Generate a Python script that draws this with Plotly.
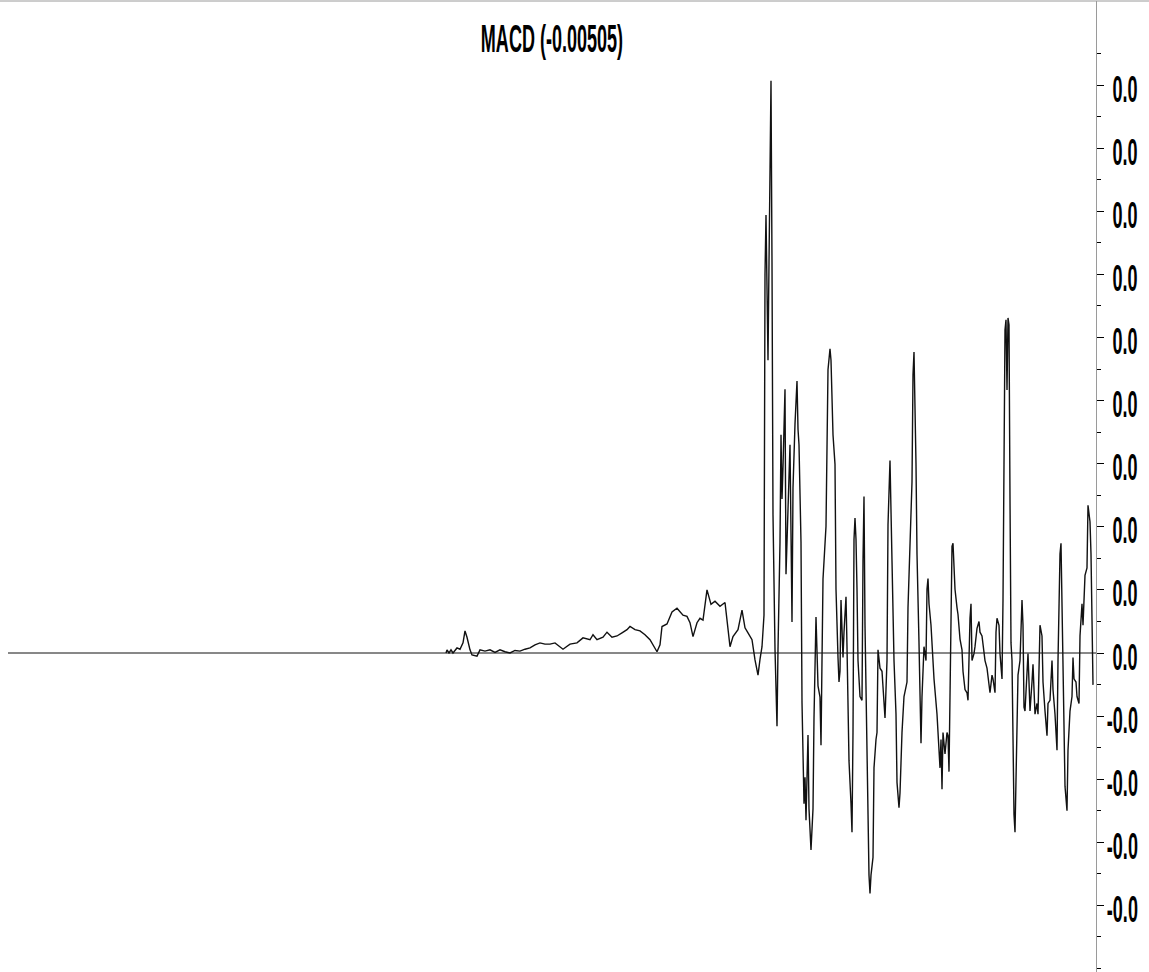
import plotly.graph_objects as go

# ---- data (x = bar index, values in units of 1e-4) ----
bar = [446, 447, 449, 451, 453, 455, 457, 460, 463, 465, 467, 470, 472, 477, 480, 485, 490, 495, 500, 505,
       510, 515, 520, 525, 530, 535, 540, 545, 550, 555, 560, 563, 570, 577, 583, 590, 593, 597, 603, 607,
       612, 617, 622, 627, 630, 635, 640, 645, 650, 653, 657, 660, 662, 667, 672, 677, 680, 683, 687, 690,
       693, 697, 700, 703, 707, 711, 715, 720, 725, 730, 733, 738, 742, 745, 748, 752, 755, 758, 760, 762,
       764, 765, 766, 767, 768, 769, 770, 771, 772, 773, 775, 777, 778, 780, 781, 782, 783, 785, 786, 787,
       789, 790, 792, 793, 795, 797, 798, 799, 801, 802, 804, 805, 806, 808, 809, 811, 813, 814, 816, 818,
       820, 821, 822, 823, 826, 828, 830, 831, 833, 835, 836, 837, 838, 839, 840, 841, 842, 843, 844, 845,
       846, 847, 848, 849, 851, 852, 853, 854, 855, 856, 857, 858, 860, 862, 863, 864, 865, 867, 868, 869,
       870, 871, 873, 874, 876, 877, 878, 880, 882, 883, 885, 887, 888, 890, 891, 892, 894, 896, 897, 899,
       900, 902, 904, 907, 908, 910, 912, 913, 914, 916, 917, 919, 921, 922, 924, 926, 927, 928, 929, 931,
       933, 934, 937, 938, 940, 941, 942, 943, 945, 947, 948, 949, 951, 952, 953, 955, 957, 958, 960, 962,
       963, 965, 967, 968, 970, 971, 972, 974, 975, 977, 979, 980, 982, 983, 985, 987, 988, 990, 992, 993,
       995, 996, 997, 999, 1000, 1002, 1003, 1004, 1005, 1006, 1007, 1008, 1009, 1010, 1011, 1012, 1013, 1014, 1015, 1016,
       1017, 1018, 1020, 1022, 1023, 1024, 1025, 1027, 1028, 1029, 1030, 1032, 1033, 1035, 1037, 1038, 1040, 1042, 1043, 1045,
       1047, 1048, 1050, 1052, 1053, 1055, 1057, 1058, 1060, 1061, 1062, 1063, 1065, 1067, 1068, 1070, 1072, 1073, 1074, 1076,
       1077, 1079, 1080, 1082, 1083, 1085, 1087, 1088, 1090, 1091, 1092, 1093]

macd_1e4 = [0, 5, 0, 5, 0, 5, 8, 6, 16, 35, 25, 5, -3, -5, 5, 3, 5, 1, 5, 2,
            0, 4, 3, 6, 8, 13, 16, 14, 14, 16, 10, 6, 14, 16, 24, 21, 29, 21, 25, 33,
            25, 27, 32, 37, 42, 37, 35, 29, 21, 13, 2, 13, 42, 46, 65, 71, 65, 60, 58, 48,
            26, 48, 55, 52, 100, 77, 82, 74, 80, 10, 26, 37, 68, 40, 32, 21, -11, -35, -10, 10,
            60, 600, 694, 600, 464, 618, 727, 907, 618, 219, 6, -116, 6, 176, 346, 244, 295, 418, 125, 185,
            277, 330, 49, 262, 363, 431, 355, 330, 176, -78, -239, -197, -265, -130, -247, -312, -247, -103, 57, -52,
            -70, -146, -11, 117, 201, 449, 482, 464, 346, 299, 101, 33, -7, -46, -29, 84, 27, -7, 33, 55,
            89, 10, -69, -171, -239, -284, -126, 180, 214, 180, 101, -12, -69, -75, 146, 248, 44, -154, -296, -352,
            -381, -352, -324, -182, -137, -126, 5, -24, -29, -52, -103, -12, 203, 305, 242, 146, -12, -97, -205, -245,
            -222, -126, -69, -46, 72, 157, 271, 441, 477, 299, 157, 16, -143, -69, 10, -12, 101, 118, 78, 44,
            -12, -41, -97, -126, -182, -137, -216, -126, -160, -126, -131, -188, 44, 169, 174, 101, 72, 61, 22, 5,
            -29, -58, -63, -75, 55, 78, -12, -1, 10, 39, 50, 33, 27, 10, -12, -24, -41, -63, -35, -41,
            -63, 33, 55, 44, -1, -41, 84, 306, 512, 528, 417, 531, 520, 243, 16, -12, -182, -256, -284, -182,
            -103, -35, -12, 84, 44, -86, -92, -12, -1, -46, -92, -46, -18, -97, -80, -97, 44, 27, -46, -92,
            -131, -80, -75, -12, -58, -97, -154, -12, 157, 174, 72, -69, -211, -250, -154, -92, -69, -7, -41, -46,
            -69, -80, 27, 78, 44, 123, 135, 234, 208, 157, 44, -50.5]

macd = [v * 1e-4 for v in macd_1e4]
last_value = macd[-1]

major_vals = [0.09, 0.08, 0.07, 0.06, 0.05, 0.04, 0.03, 0.02, 0.01, 0.0, -0.01, -0.02, -0.03, -0.04]
major_text = ["0.0", "0.0", "0.0", "0.0", "0.0", "0.0", "0.0", "0.0", "0.0", "0.0", "-0.0", "-0.0", "-0.0", "-0.0"]
minor_vals = [0.095, 0.085, 0.075, 0.065, 0.055, 0.045, 0.035, 0.025, 0.015, 0.005,
              -0.005, -0.015, -0.025, -0.035, -0.045, -0.05]

W, H = 1149, 972
ML, MR, MT, MB = 8, 53, 1, 0
PW = W - ML - MR

FONT = "Liberation Sans Narrow, Arial Narrow, Liberation Sans, Arial, sans-serif"

fig = go.Figure()
fig.add_trace(go.Scatter(x=bar, y=macd, mode="lines",
                         line=dict(color="#111111", width=1.4),
                         hoverinfo="skip", showlegend=False))

for v, t in zip(major_vals, major_text):
    fig.add_annotation(x=(1140 - ML) / PW, xref="paper", y=v, yref="y", text=t,
                       showarrow=False, xanchor="right", yanchor="middle", yshift=-4,
                       font=dict(family=FONT, size=22, color="#000000", weight="bold"))

fig.add_shape(type="line", xref="paper", x0=0, x1=1, yref="y", y0=0, y1=0,
              line=dict(color="#111111", width=1))
fig.add_shape(type="line", xref="paper", x0=-ML / PW, x1=(W - ML) / PW, yref="paper", y0=1, y1=1,
              line=dict(color="#9a9a9a", width=1))

fig.update_layout(
    width=W, height=H, autosize=False,
    margin=dict(l=ML, r=MR, t=MT, b=MB, pad=0),
    paper_bgcolor="white", plot_bgcolor="white",
    title=dict(text="MACD (%.5f)" % last_value, x=(552 - ML) / PW, xref="paper", xanchor="center",
               y=1 - 39 / H, yref="container", yanchor="middle",
               font=dict(family=FONT, size=22, color="#000000", weight="bold")),
    xaxis=dict(visible=False, range=[8, 1096]),
    yaxis=dict(range=[-0.050555, 0.10333], side="right", showline=True, linecolor="#9a9a9a", linewidth=1,
               showgrid=False, zeroline=False, ticks="outside", ticklen=7, tickwidth=1, tickcolor="#000000",
               tickvals=major_vals, showticklabels=False,
               minor=dict(ticks="outside", ticklen=4, tickwidth=1, tickcolor="#000000", tickvals=minor_vals,
                          showgrid=False)),
    showlegend=False,
)

post = """
document.body.style.margin = '0';
var gd = document.getElementById('{plot_id}');
function stretch(sel, sx, sy, anchorRight) {
  gd.querySelectorAll(sel).forEach(function (t) {
    var bb = t.getBBox();
    var cx = anchorRight ? (bb.x + bb.width) : (bb.x + bb.width / 2);
    var cy = bb.y + bb.height / 2;
    var prev = t.getAttribute('transform') || '';
    t.setAttribute('transform', prev + ' translate(' + cx + ',' + cy + ') scale(' + sx + ',' + sy + ') translate(' + (-cx) + ',' + (-cy) + ')');
  });
}
stretch('text.annotation-text', 0.82, 1.65, true);
stretch('text.gtitle', 0.82, 1.75, false);
"""

fig.write_html("out.html", config={"displayModeBar": False}, post_script=post)
